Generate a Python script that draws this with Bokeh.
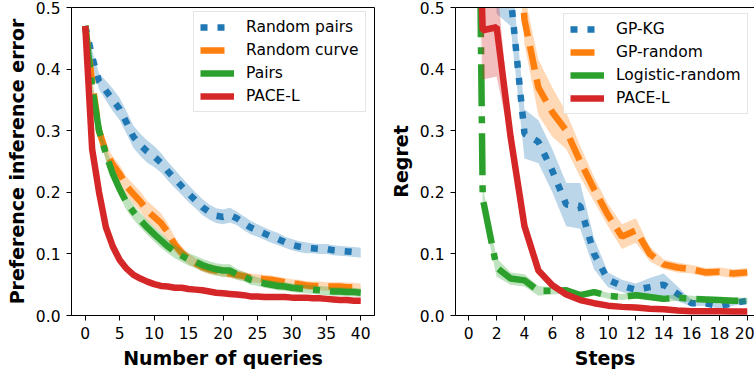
from bokeh.plotting import figure
from bokeh.layouts import row
from bokeh.models import (Range1d, FixedTicker, NumeralTickFormatter, Legend,
                          LegendItem, LinearAxis)
from bokeh.embed import file_html
from bokeh.resources import INLINE

# ---------------- left panel: preference inference error vs. queries ----------------
queries = list(range(41))
query_ticks = [0, 5, 10, 15, 20, 25, 30, 35, 40]

random_pairs = [0.47, 0.42, 0.38, 0.365, 0.35, 0.335, 0.313, 0.29, 0.277, 0.266,
                0.258, 0.248, 0.234, 0.222, 0.21, 0.198, 0.187, 0.176, 0.168, 0.162,
                0.16, 0.163, 0.158, 0.15, 0.143, 0.138, 0.133, 0.128, 0.124, 0.119,
                0.115, 0.112, 0.11, 0.109, 0.108, 0.108, 0.106, 0.105, 0.104, 0.103,
                0.102]
random_pairs_sd = [0.004, 0.01, 0.013, 0.016, 0.018, 0.018, 0.018, 0.018, 0.018, 0.018,
                   0.017, 0.016, 0.015, 0.015, 0.014, 0.014, 0.013, 0.013, 0.012, 0.012,
                   0.012, 0.012, 0.011, 0.011, 0.011, 0.01, 0.01, 0.01, 0.01, 0.009,
                   0.009, 0.009, 0.009, 0.008, 0.008, 0.008, 0.008, 0.008, 0.008, 0.008,
                   0.008]

random_curve = [0.47, 0.38, 0.30, 0.265, 0.245, 0.23, 0.21, 0.197, 0.185, 0.17,
                0.16, 0.15, 0.135, 0.115, 0.102, 0.092, 0.085, 0.079, 0.075, 0.073,
                0.071, 0.068, 0.066, 0.064, 0.061, 0.06, 0.059, 0.058, 0.056, 0.054,
                0.052, 0.051, 0.049, 0.048, 0.048, 0.047, 0.047, 0.047, 0.046, 0.046,
                0.045]
random_curve_sd = [0.004, 0.008, 0.01, 0.012, 0.013, 0.014, 0.015, 0.016, 0.016, 0.016,
                   0.016, 0.016, 0.014, 0.012, 0.01, 0.009, 0.008, 0.008, 0.008, 0.008,
                   0.008, 0.007, 0.007, 0.007, 0.007, 0.007, 0.007, 0.007, 0.007, 0.007,
                   0.007, 0.007, 0.007, 0.007, 0.007, 0.007, 0.007, 0.007, 0.007, 0.007,
                   0.007]

pairs = [0.47, 0.37, 0.30, 0.262, 0.23, 0.205, 0.183, 0.168, 0.155, 0.143,
         0.132, 0.122, 0.112, 0.104, 0.097, 0.091, 0.087, 0.082, 0.078, 0.075,
         0.073, 0.073, 0.067, 0.063, 0.058, 0.055, 0.052, 0.05, 0.048, 0.047,
         0.045, 0.044, 0.043, 0.042, 0.041, 0.04, 0.039, 0.039, 0.038, 0.038,
         0.037]
pairs_sd = [0.004, 0.008, 0.01, 0.011, 0.012, 0.012, 0.012, 0.012, 0.012, 0.012,
            0.012, 0.012, 0.011, 0.011, 0.01, 0.01, 0.01, 0.01, 0.01, 0.01,
            0.01, 0.01, 0.009, 0.008, 0.008, 0.007, 0.007, 0.007, 0.007, 0.007,
            0.007, 0.007, 0.007, 0.007, 0.007, 0.007, 0.007, 0.007, 0.007, 0.007,
            0.007]

pace_queries = [0.47, 0.27, 0.20, 0.143, 0.112, 0.090, 0.076, 0.066, 0.060, 0.055,
                0.051, 0.048, 0.047, 0.045, 0.045, 0.043, 0.042, 0.041, 0.039, 0.037,
                0.036, 0.035, 0.034, 0.033, 0.031, 0.031, 0.030, 0.030, 0.030, 0.030,
                0.029, 0.029, 0.029, 0.028, 0.028, 0.027, 0.026, 0.025, 0.025, 0.024,
                0.024]
pace_queries_sd = [0.004, 0.005, 0.005, 0.005, 0.004, 0.003, 0.003, 0.003, 0.003, 0.003,
                   0.003, 0.003, 0.003, 0.003, 0.003, 0.003, 0.003, 0.003, 0.003, 0.003,
                   0.003, 0.003, 0.003, 0.003, 0.003, 0.003, 0.003, 0.003, 0.003, 0.003,
                   0.003, 0.003, 0.003, 0.003, 0.003, 0.003, 0.003, 0.003, 0.003, 0.003,
                   0.003]

# ---------------- right panel: regret vs. steps ----------------
steps = list(range(21))
step_ticks = [0, 2, 4, 6, 8, 10, 12, 14, 16, 18, 20]

gp_kg = [2.2, 1.2, 0.56, 0.52, 0.295, 0.282, 0.235, 0.18, 0.178, 0.1,
         0.058, 0.048, 0.042, 0.046, 0.05, 0.035, 0.02, 0.02, 0.015, 0.02, 0.024]
gp_kg_sd = [0.05, 0.05, 0.07, 0.05, 0.04, 0.035, 0.035, 0.035, 0.037, 0.025,
            0.012, 0.01, 0.01, 0.015, 0.018, 0.012, 0.005, 0.004, 0.004, 0.004, 0.004]

gp_random = [2.2, 1.6, 1.1, 0.8, 0.48, 0.37, 0.33, 0.30, 0.25, 0.205,
             0.163, 0.128, 0.138, 0.1, 0.083, 0.078, 0.075, 0.07, 0.071, 0.068, 0.07]
gp_random_sd = [0.05, 0.05, 0.05, 0.05, 0.04, 0.045, 0.04, 0.03, 0.025, 0.02,
                0.018, 0.02, 0.02, 0.012, 0.008, 0.008, 0.007, 0.007, 0.007, 0.007, 0.007]

logistic_random = [2.2, 0.19, 0.078, 0.06, 0.057, 0.04, 0.04, 0.041, 0.033, 0.038,
                   0.032, 0.03, 0.033, 0.03, 0.027, 0.029, 0.027, 0.026, 0.025, 0.024, 0.024]
logistic_random_sd = [0.05, 0.02, 0.015, 0.01, 0.01, 0.008, 0.006, 0.005, 0.005, 0.005,
                      0.005, 0.005, 0.005, 0.005, 0.005, 0.005, 0.005, 0.005, 0.005, 0.005, 0.005]

pace_steps = [1.2, 0.463, 0.468, 0.29, 0.145, 0.073, 0.049, 0.034, 0.025, 0.02,
              0.016, 0.014, 0.013, 0.011, 0.01, 0.008, 0.007, 0.007, 0.007, 0.0065, 0.0065]
pace_steps_sd = [0.08, 0.08, 0.08, 0.01, 0.006, 0.005, 0.004, 0.003, 0.003, 0.003,
                 0.002, 0.002, 0.002, 0.002, 0.002, 0.002, 0.002, 0.002, 0.002, 0.002, 0.002]

y_ticks = [0.0, 0.1, 0.2, 0.3, 0.4, 0.5]

# ---------------- styling ----------------
FONT = "DejaVu Sans"
BLUE, ORANGE, GREEN, RED = "#1f77b4", "#ff7f0e", "#2ca02c", "#d62728"
LW = 6.5
DOTTED = "7 10"
DASHED = "24 10"
DASHDOT = "42 10 7 10"


def style_axis(ax):
    ax.major_tick_out = 5
    ax.major_tick_in = 0
    ax.minor_tick_out = 0
    ax.minor_tick_in = 0
    ax.axis_line_color = "black"
    ax.axis_line_width = 1
    ax.major_tick_line_color = "black"
    ax.major_label_text_font = FONT
    ax.major_label_text_font_size = "15.5px"
    ax.major_label_text_color = "black"
    ax.major_label_standoff = 6
    ax.axis_label_text_font = FONT
    ax.axis_label_text_font_size = "19px"
    ax.axis_label_text_font_style = "bold"
    ax.axis_label_text_color = "black"
    ax.axis_label_standoff = 5


def panel(x, series, x_range, x_ticks, x_label, y_label, frame_w,
          border_l, border_r, legend_xy, outline=True):
    p = figure(frame_width=frame_w, frame_height=308,
               x_range=x_range, y_range=Range1d(0, 0.5),
               output_backend="svg", toolbar_location=None,
               min_border_left=border_l, min_border_right=border_r,
               min_border_top=7, min_border_bottom=58,
               background_fill_color="white", border_fill_color="white")
    p.grid.visible = False
    p.outline_line_color = "black" if outline else None
    p.outline_line_width = 1
    p.xaxis.ticker = FixedTicker(ticks=x_ticks)
    p.yaxis.ticker = FixedTicker(ticks=y_ticks)
    p.yaxis.formatter = NumeralTickFormatter(format="0.0")
    p.xaxis.axis_label = x_label
    p.yaxis.axis_label = y_label
    style_axis(p.xaxis[0])
    style_axis(p.yaxis[0])

    items = []
    for label, mean, sd, color, dash in series:
        lo = [m - s for m, s in zip(mean, sd)]
        hi = [m + s for m, s in zip(mean, sd)]
        p.varea(x=x, y1=lo, y2=hi, fill_color=color, fill_alpha=0.3)
        r = p.line(x, mean, line_color=color, line_width=LW, line_dash=dash)
        items.append(LegendItem(label=label, renderers=[r]))

    # legend location is the box's lower-left corner, in pixels from the
    # frame's lower-left corner
    legend = Legend(items=items, location=legend_xy, margin=0,
                    padding=6, spacing=5, label_height=16, glyph_height=16,
                    glyph_width=34, label_standoff=12,
                    label_text_font=FONT, label_text_font_size="15.5px",
                    label_text_color="black",
                    border_line_color="#cccccc", border_line_width=1,
                    background_fill_color="white", background_fill_alpha=0.8)
    p.add_layout(legend)
    return p


left = panel(queries,
             [("Random pairs", random_pairs, random_pairs_sd, BLUE, DOTTED),
              ("Random curve", random_curve, random_curve_sd, ORANGE, DASHED),
              ("Pairs", pairs, pairs_sd, GREEN, DASHDOT),
              ("PACE-L", pace_queries, pace_queries_sd, RED, "solid")],
             Range1d(-2, 42), query_ticks,
             "Number of queries", "Preference inference error",
             303, 71, 6, (122, 203))

right = panel(steps,
              [("GP-KG", gp_kg, gp_kg_sd, BLUE, DOTTED),
               ("GP-random", gp_random, gp_random_sd, ORANGE, DASHED),
               ("Logistic-random", logistic_random, logistic_random_sd, GREEN, DASHDOT),
               ("PACE-L", pace_steps, pace_steps_sd, RED, "solid")],
             Range1d(-0.955, 20.52), step_ticks,
             "Steps", "Regret",
             299, 75, 0, (108, 201), outline=False)

# top spine of the right panel (its right edge runs off the page)
top = LinearAxis(ticker=FixedTicker(ticks=[]), axis_line_color="black",
                 axis_line_width=1, major_tick_line_color=None,
                 minor_tick_line_color=None, major_label_text_font_size="0px")
right.add_layout(top, "above")

layout = row(left, right, spacing=0)
open("out.html", "w").write(file_html(layout, INLINE))
